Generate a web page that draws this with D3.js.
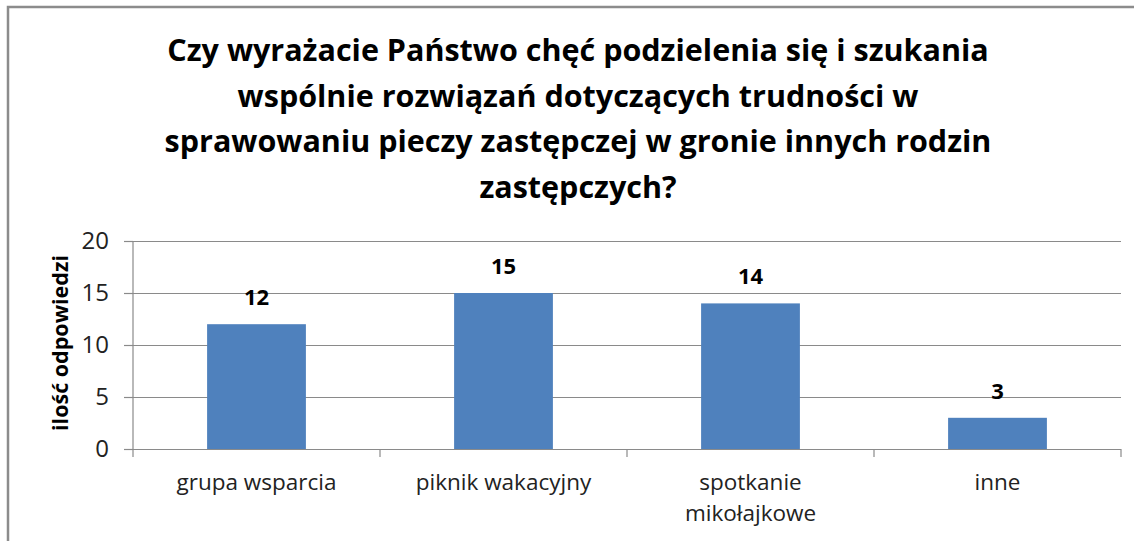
<!DOCTYPE html>
<html><head><meta charset="utf-8">
<script src="https://cdn.jsdelivr.net/npm/d3@7"></script>
<style>
html,body{margin:0;padding:0;background:#fff;}
svg{display:block;}
text{font-family:"Open Sans","Noto Sans",sans-serif;}
</style></head>
<body>
<svg id="chart" width="1134" height="541"></svg>
<script>
const titleLines = ["Czy wyrażacie Państwo chęć podzielenia się i szukania",
  "wspólnie rozwiązań dotyczących trudności w",
  "sprawowaniu pieczy zastępczej w gronie innych rodzin",
  "zastępczych?"];
const categories = [["grupa wsparcia"],["piknik wakacyjny"],["spotkanie","mikołajkowe"],["inne"]];
const values = [12, 15, 14, 3];
const yTicks = [0, 5, 10, 15, 20];
const yLabel = "ilość odpowiedzi";

const svg = d3.select("#chart");
// frame
svg.append("path").attr("d","M8,541 V7 H1134").attr("fill","none").attr("stroke","#8c8c8c").attr("stroke-width",2.5);

// title
const tt = svg.append("text").attr("text-anchor","middle").attr("font-weight","bold").attr("font-size",30.5).attr("fill","#000");
titleLines.forEach((l,i)=>tt.append("tspan").attr("x",578).attr("y",61+i*45.7).text(l));

const x0=133, x1=1121, yTop=241, yBot=449;
const x = d3.scaleBand().domain(d3.range(values.length)).range([x0,x1]).paddingInner(0.6).paddingOuter(0.3);
const xb = d3.scaleBand().domain(d3.range(values.length)).range([x0,x1]);
const y = d3.scaleLinear().domain([0,20]).range([yBot,yTop]);

// gridlines
svg.append("g").selectAll("line").data(yTicks.filter(d=>d>0)).join("line")
  .attr("x1",x0).attr("x2",x1).attr("y1",d=>y(d)+0.5).attr("y2",d=>y(d)+0.5)
  .attr("stroke","#8a8a8a").attr("stroke-width",1.2);

// bars
svg.append("g").selectAll("rect").data(values).join("rect")
  .attr("x",(d,i)=>x(i)).attr("width",x.bandwidth())
  .attr("y",d=>y(d)).attr("height",d=>yBot-y(d)).attr("fill","#4F81BD");

// y axis
const ya = svg.append("g").attr("transform",`translate(${x0},0)`)
  .call(d3.axisLeft(y).tickValues(yTicks).tickSize(9).tickPadding(15));
ya.select(".domain").attr("stroke","#8a8a8a").attr("stroke-width",1.2).attr("d",`M0,${yTop}V${yBot}`);
ya.selectAll(".tick line").attr("stroke","#8a8a8a").attr("stroke-width",1.2);
ya.selectAll(".tick text").attr("font-size",24).attr("fill","#222").attr("font-family","'Open Sans',sans-serif");

// x axis
const xa = svg.append("g").attr("transform",`translate(0,${yBot})`);
xa.append("line").attr("x1",x0).attr("x2",x1).attr("y1",0.5).attr("y2",0.5).attr("stroke","#8a8a8a").attr("stroke-width",1.2);
xa.selectAll("line.t").data(d3.range(values.length+1)).join("line").attr("class","t")
  .attr("x1",i=>i<values.length?xb(i):x1).attr("x2",i=>i<values.length?xb(i):x1)
  .attr("y1",0).attr("y2",8).attr("stroke","#8a8a8a").attr("stroke-width",1.2);
categories.forEach((c,i)=>{
  const t = xa.append("text").attr("text-anchor","middle").attr("font-size",22.5).attr("fill","#222");
  c.forEach((l,j)=>t.append("tspan").attr("x",xb(i)+xb.bandwidth()/2).attr("y",41+j*31).text(l));
});

// value labels
svg.append("g").selectAll("text").data(values).join("text")
  .attr("x",(d,i)=>x(i)+x.bandwidth()/2).attr("y",d=>y(d)-19)
  .attr("text-anchor","middle").attr("font-weight","bold").attr("font-size",22).attr("fill","#000")
  .text(d=>d);

// y label
svg.append("text").attr("transform","translate(68,343) rotate(-90)").attr("text-anchor","middle")
  .attr("font-weight","bold").attr("font-size",21.5).attr("fill","#000").text(yLabel);
</script>
</body></html>
